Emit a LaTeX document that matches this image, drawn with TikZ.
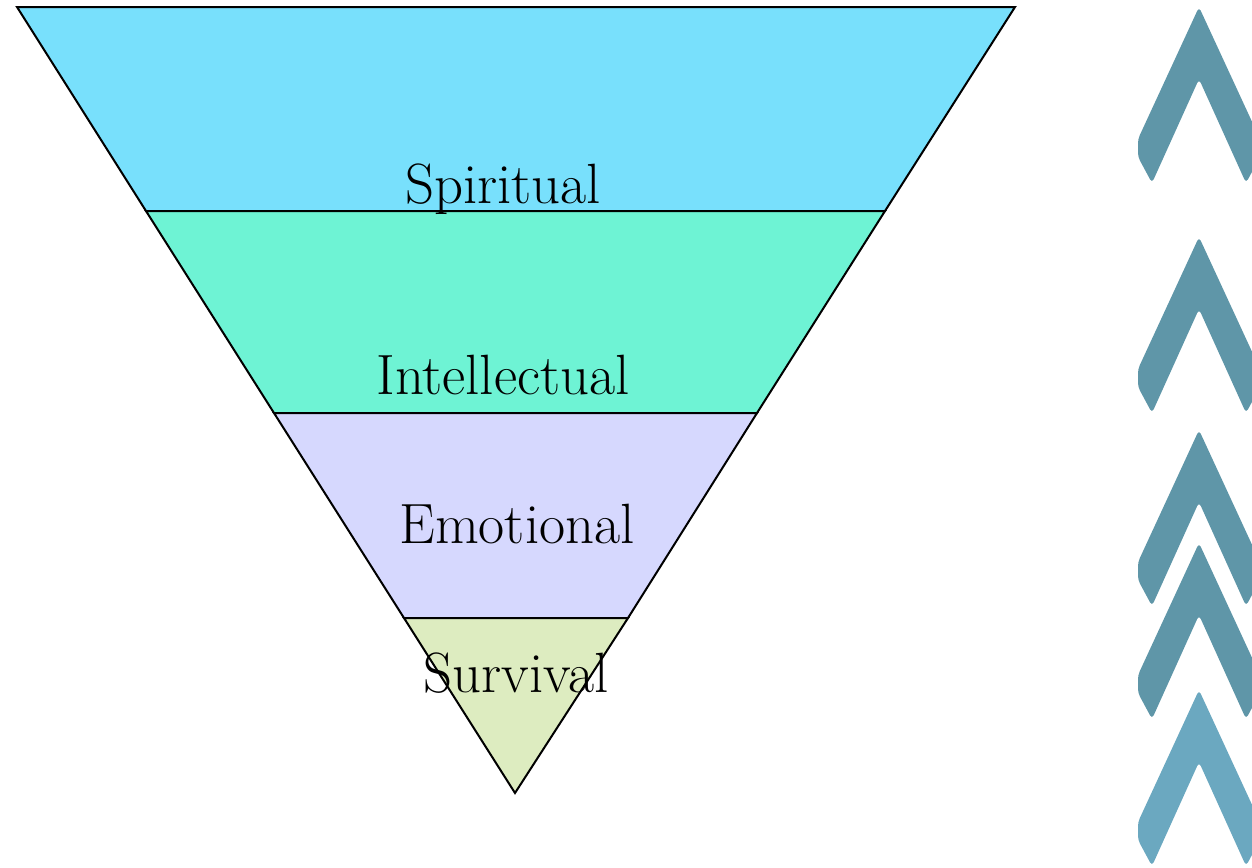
\documentclass[tikz,border=0pt]{standalone}
\definecolor{spiritual}{RGB}{120,224,252}
\definecolor{intellectual}{RGB}{110,243,212}
\definecolor{emotional}{RGB}{214,216,254}
\definecolor{survival}{RGB}{221,236,192}
\definecolor{chevdark}{RGB}{95,150,168}
\definecolor{chevlight}{RGB}{107,168,192}

\tikzstyle{layer}=[draw=black,line width=1pt,line join=miter]
\tikzstyle{level}=[font=\fontsize{28.4}{34}\selectfont,anchor=base,inner sep=0pt]
\tikzstyle{chevron}=[rounded corners=2pt]

\begin{document}
\begin{tikzpicture}[x=0.5pt,y=-0.5pt]
    \useasboundingbox (0,0) rectangle (1252,867);
    % Draw the funnel, top layer first
    \filldraw[layer,fill=spiritual] (17,7) -- (1015,7) -- (885,211) -- (146,211) -- cycle;
    \filldraw[layer,fill=intellectual] (146,211) -- (885,211) -- (757,413) -- (274,413) -- cycle;
    \filldraw[layer,fill=emotional] (274,413) -- (757,413) -- (628,618) -- (404,618) -- cycle;
    \filldraw[layer,fill=survival] (404,618) -- (628,618) -- (515,793) -- cycle;
    % Level names
    \node[level] (spiritual label) at (503,203) {Spiritual};
    \node[level] (intellectual label) at (503,394) {Intellectual};
    \node[level] (emotional label) at (517,543) {Emotional};
    \node[level] (survival label) at (516,692) {Survival};
    % Chevrons along the right edge
    \begin{scope}
    \clip (0,0) rectangle (1252,867);
    \foreach \y/\col in {7/chevdark,237/chevdark,430/chevdark,543/chevdark,690/chevlight}
    \fill[chevron,\col,shift={(1199,\y)}] (0,0) -- (61,132) -- (61,150) -- (47,176) -- (0,72)
        -- (-47,176) -- (-61,150) -- (-61,132) -- cycle;
    \end{scope}
\end{tikzpicture}
\end{document}
